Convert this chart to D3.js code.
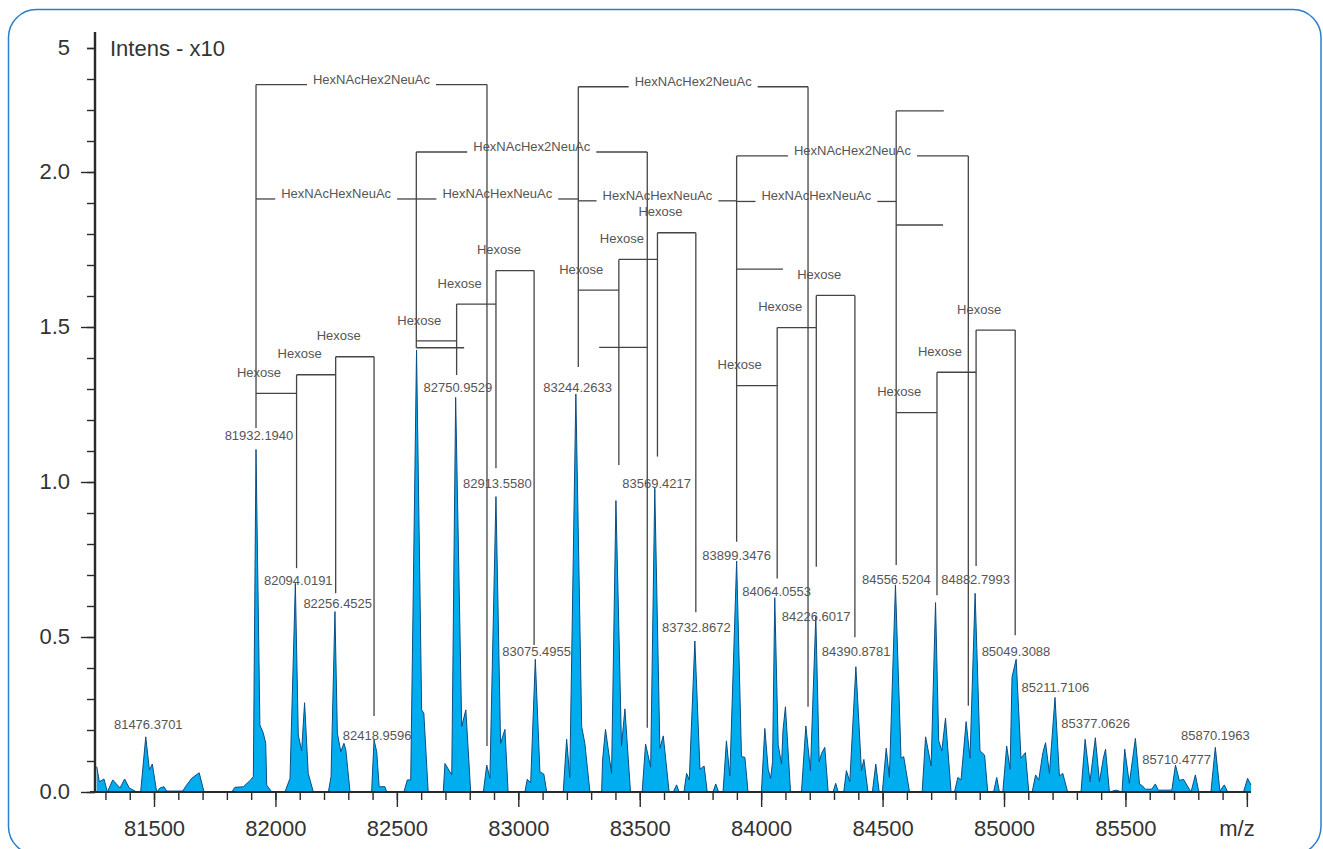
<!DOCTYPE html>
<html>
<head>
<meta charset="utf-8">
<script src="https://cdn.jsdelivr.net/npm/d3@7"></script>
<style>
  body { margin: 0; background: #fff; }
  svg { display: block; font-family: "Liberation Sans", Arial, sans-serif; }
</style>
</head>
<body>
<svg width="1323" height="849"></svg>
<script>
// profile spectrum (m/z, intensity x10^5)
const specMz = [81264, 81275, 81294, 81308, 81330, 81360, 81379, 81398, 81429, 81445, 81466, 81481, 81493, 81511, 81525, 81541, 81552, 81618, 81635, 81655, 81686, 81706,
  81820, 81833, 81868, 81898, 81909, 81920, 81936, 81950, 81960, 81964, 81985, 82039, 82060, 82082, 82094, 82108, 82120, 82135, 82156,
  82218, 82229, 82245, 82255, 82269, 82282, 82290, 82307, 82396, 82406, 82417, 82427, 82451, 82458, 82529, 82543, 82557, 82581, 82602, 82611, 82629,
  82691, 82698, 82726, 82742, 82767, 82784, 82804, 82856, 82870, 82883, 82908, 82927, 82945, 82958, 83027, 83037, 83051, 83070, 83089, 83105, 83117,
  83185, 83199, 83212, 83237, 83261, 83274, 83295, 83343, 83347, 83359, 83384, 83402, 83425, 83439, 83462, 83510, 83524, 83545, 83562, 83583, 83597, 83621,
  83638, 83652, 83662, 83682, 83693, 83704, 83727, 83748, 83765, 83778, 83802, 83813, 83825, 83843, 83857, 83871, 83899, 83919, 83933, 83946,
  84001, 84015, 84029, 84039, 84047, 84056, 84070, 84084, 84090, 84100, 84121, 84166, 84184, 84203, 84225, 84239, 84249, 84262, 84276,
  84296, 84307, 84317, 84340, 84351, 84365, 84390, 84413, 84423, 84440, 84458, 84472, 84486, 84499, 84515, 84528, 84553, 84576, 84587, 84611,
  84663, 84677, 84700, 84718, 84731, 84744, 84759, 84782, 84796, 84810, 84823, 84844, 84860, 84881, 84901, 84920, 84933, 84957, 84970, 84981,
  84995, 85011, 85025, 85033, 85050, 85070, 85088, 85102, 85116, 85130, 85143, 85160, 85171, 85187, 85210, 85228, 85242, 85262,
  85317, 85334, 85354, 85376, 85393, 85409, 85418, 85434, 85461, 85486, 85497, 85516, 85541, 85558, 85571, 85582, 85608, 85623, 85635,
  85691, 85706, 85722, 85739, 85770, 85788, 85802, 85852, 85870, 85889, 85907, 85921, 85986, 86003, 86017];
const specInt = [0.082, 0.033, 0.042, 0, 0.039, 0.013, 0.042, 0.013, 0, 0, 0.178, 0.071, 0.09, 0, 0.013, 0.017, 0.003, 0.003, 0.023, 0.044, 0.062, 0,
  0, 0.015, 0.017, 0.039, 0.05, 1.105, 0.216, 0.19, 0.157, 0.022, 0, 0, 0.044, 0.673, 0.184, 0.133, 0.288, 0.06, 0,
  0, 0.05, 0.582, 0.19, 0.13, 0.157, 0.135, 0, 0, 0.168, 0.13, 0.017, 0.017, 0, 0, 0.039, 0.039, 1.426, 0.265, 0.254, 0,
  0, 0.092, 0.055, 1.273, 0.211, 0.265, 0, 0, 0.087, 0.044, 0.953, 0.157, 0.202, 0, 0, 0.041, 0.03, 0.428, 0.065, 0.058, 0,
  0, 0.17, 0.047, 1.284, 0.211, 0.157, 0, 0, 0.103, 0.202, 0.06, 0.94, 0.148, 0.268, 0, 0, 0.155, 0.08, 0.98, 0.141, 0.181, 0,
  0, 0.023, 0, 0, 0.06, 0.039, 0.487, 0.073, 0.084, 0, 0, 0.026, 0, 0, 0.165, 0.052, 0.745, 0.114, 0.112, 0,
  0, 0.205, 0.073, 0.044, 0.098, 0.627, 0.152, 0.09, 0.2, 0.275, 0, 0, 0.213, 0.069, 0.566, 0.098, 0.125, 0.144, 0,
  0, 0.028, 0, 0, 0.069, 0.033, 0.404, 0.069, 0.105, 0, 0, 0.09, 0, 0, 0.141, 0.047, 0.668, 0.109, 0.114, 0,
  0, 0.178, 0.084, 0.611, 0.166, 0.133, 0.238, 0, 0, 0.047, 0.039, 0.227, 0.109, 0.641, 0.133, 0.119, 0, 0, 0.047, 0,
  0, 0.148, 0.073, 0.37, 0.428, 0.109, 0.127, 0, 0, 0.055, 0.039, 0.127, 0.159, 0.06, 0.305, 0.052, 0.06, 0,
  0, 0.17, 0.033, 0.175, 0.033, 0.109, 0.138, 0, 0.006, 0, 0.138, 0.028, 0.173, 0.026, 0.019, 0.009, 0.009, 0.026, 0.006,
  0.006, 0.087, 0.037, 0.041, 0, 0.055, 0, 0, 0.144, 0.003, 0.023, 0, 0, 0.044, 0.023];

// centroid peak list (labelled peaks)
const peakMz = [81476.3701, 81932.1940, 82094.0191, 82256.4525, 82418.9596, 82750.9529, 82913.5580, 83075.4955, 83244.2633, 83569.4217, 83732.8672,
  83899.3476, 84064.0553, 84226.6017, 84390.8781, 84556.5204, 84882.7993, 85049.3088, 85211.7106, 85377.0626, 85710.4777, 85870.1963];
const peakInt = [0.187, 1.117, 0.652, 0.576, 0.149, 1.272, 0.964, 0.42, 1.272, 0.964, 0.498,
  0.73, 0.614, 0.536, 0.42, 0.654, 0.654, 0.42, 0.304, 0.189, 0.073, 0.149];

// annotation stems: m/z and lower end (intensity)
const stemMz = [81920, 82087, 82248, 82406, 82580, 82746, 82871, 82908, 83065, 83247, 83414, 83531, 83573, 83731,
  83899, 84066, 84193, 84227, 84386, 84556, 84724, 84853, 84885, 85046];
const stemEnd = [1.174, 0.722, 0.641, 0.245, 1.433, 1.345, 0.148, 1.044, 0.474, 1.371, 1.055, 0.207, 1.082, 0.58,
  0.807, 0.689, 0.275, 0.727, 0.499, 0.732, 0.635, 0.278, 0.729, 0.506];

// mass-difference brackets
const bracketFrom = [81920, 82580, 83247, 83899, 81920, 82580, 83247, 83899,
  81920, 82087, 82248, 82580, 82746, 82908, 83247, 83414, 83573, 83899, 84066, 84227, 84556, 84724, 84885,
  82580, 83333, 83899, 84556, 84556];
const bracketTo = [82871, 83531, 84193, 84853, 82580, 83247, 83899, 84556,
  82087, 82248, 82406, 82746, 82908, 83065, 83414, 83573, 83731, 84066, 84227, 84386, 84724, 84885, 85046,
  82777, 83531, 84090, 84752, 84749];
const bracketLevel = [2.282, 2.0645, 2.275, 2.052, 1.913, 1.913, 1.907, 1.905,
  1.286, 1.346, 1.404, 1.455, 1.574, 1.682, 1.619, 1.718, 1.804, 1.311, 1.498, 1.602, 1.224, 1.354, 1.490,
  1.433, 1.4345, 1.687, 2.197, 1.829];
const bracketLabel = ["HexNAcHex2NeuAc", "HexNAcHex2NeuAc", "HexNAcHex2NeuAc", "HexNAcHex2NeuAc",
  "HexNAcHexNeuAc", "HexNAcHexNeuAc", "HexNAcHexNeuAc", "HexNAcHexNeuAc",
  "Hexose", "Hexose", "Hexose", "Hexose", "Hexose", "Hexose", "Hexose", "Hexose", "Hexose", "Hexose", "Hexose", "Hexose", "Hexose", "Hexose", "Hexose",
  "", "", "", "", ""];

// axis ticks
const xMinorTicks = d3.range(81300, 86001, 100);
const xMajorTicks = [81500, 82000, 82500, 83000, 83500, 84000, 84500, 85000, 85500, 86000];
const xTickLabels = ["81500", "82000", "82500", "83000", "83500", "84000", "84500", "85000", "85500", ""];
const yMinorTicks = d3.range(0, 25).map(i => i / 10);
const yMajorTicks = [0, 0.5, 1.0, 1.5, 2.0];
const yLabelVals = [0, 0.5, 1.0, 1.5, 2.0, 2.4];
const yLabelText = ["0.0", "0.5", "1.0", "1.5", "2.0", "5"];

const svg = d3.select("svg");
const ink = "#2a2a2a";
const annInk = "#555";

const x = d3.scaleLinear().domain([81257, 86017]).range([95, 1251]);
const y = d3.scaleLinear().domain([0, 2.4]).range([792, 48]);

// frame
svg.append("rect")
    .attr("x", 8.5).attr("y", 9.5)
    .attr("width", 1312.5).attr("height", 845)
    .attr("rx", 28).attr("ry", 28)
    .attr("fill", "none")
    .attr("stroke", "#2a7fcc")
    .attr("stroke-width", 1.5);

// spectrum
const pts = specMz.map((m, i) => [m, specInt[i]]);
const area = d3.area().x(d => x(d[0])).y0(y(0)).y1(d => y(d[1]));
const line = d3.line().x(d => x(d[0])).y(d => y(d[1]));

svg.append("path")
    .datum(pts)
    .attr("fill", "#00aeef")
    .attr("d", area);
svg.append("path")
    .datum(pts)
    .attr("fill", "none")
    .attr("stroke", "#0b4c84")
    .attr("stroke-width", 1)
    .attr("stroke-linejoin", "round")
    .attr("d", line);

// x axis
const gx = svg.append("g").attr("transform", `translate(0,${y(0)})`);
gx.append("g").call(d3.axisBottom(x).tickValues(xMinorTicks).tickSize(8).tickFormat(""));
gx.append("g").call(d3.axisBottom(x).tickValues(xMajorTicks).tickSize(15).tickPadding(13)
    .tickFormat((d, i) => xTickLabels[i]));
gx.selectAll(".domain").remove();
gx.selectAll("line").attr("stroke", ink).attr("stroke-width", 1.4);
gx.selectAll("text")
    .attr("fill", "#333")
    .style("font-size", "22px")
    .style("font-family", "'Liberation Sans', Arial, sans-serif");
gx.append("line")
    .attr("x1", 90).attr("x2", 1251)
    .attr("stroke", ink).attr("stroke-width", 2.2);

svg.append("text")
    .attr("x", 1237).attr("y", 836)
    .attr("text-anchor", "middle")
    .attr("fill", "#333")
    .style("font-size", "22px")
    .text("m/z");

// y axis
const gy = svg.append("g").attr("transform", "translate(95,0)");
gy.append("g").call(d3.axisLeft(y).tickValues(yMinorTicks.concat([2.4])).tickSize(8).tickFormat(""));
gy.append("g").call(d3.axisLeft(y).tickValues(yMajorTicks).tickSize(14).tickFormat(""));
gy.selectAll(".domain").remove();
gy.selectAll("line").attr("stroke", ink).attr("stroke-width", 1.4);
gy.append("line")
    .attr("y1", 32).attr("y2", y(0) + 1)
    .attr("stroke", ink).attr("stroke-width", 2.4);

svg.selectAll(".ylab")
    .data(yLabelVals).enter().append("text")
    .attr("class", "ylab")
    .attr("x", 70)
    .attr("y", d => y(d) - 1)
    .attr("dy", "0.36em")
    .attr("text-anchor", "end")
    .attr("fill", "#333")
    .style("font-size", "22px")
    .text((d, i) => yLabelText[i]);

svg.append("text")
    .attr("x", 110).attr("y", 48)
    .attr("dy", "0.36em")
    .attr("fill", "#333")
    .style("font-size", "22px")
    .text("Intens - x10");

// annotation stems: top is the highest bracket attached to the stem
const ann = svg.append("g")
    .attr("stroke", "#444")
    .attr("stroke-width", 1.3)
    .attr("fill", "none");

stemMz.forEach((m, i) => {
    const levels = bracketLevel.filter((l, j) => bracketFrom[j] === m || bracketTo[j] === m);
    const top = d3.max(levels);
    ann.append("line")
        .attr("x1", x(m)).attr("x2", x(m))
        .attr("y1", y(top)).attr("y2", y(stemEnd[i]));
});

const labels = svg.append("g")
    .attr("fill", annInk)
    .style("font-size", "13px");

bracketFrom.forEach((m1, i) => {
    const x1 = x(m1), x2 = x(bracketTo[i]), yy = y(bracketLevel[i]);
    const lab = bracketLabel[i];
    if (lab.startsWith("HexNAc")) {
        const cx = (x1 + x2) / 2;
        const t = labels.append("text")
            .attr("x", cx).attr("y", yy - 1)
            .attr("text-anchor", "middle")
            .text(lab);
        const w = t.node().getComputedTextLength();
        ann.append("line").attr("x1", x1).attr("x2", cx - w / 2 - 6).attr("y1", yy).attr("y2", yy);
        ann.append("line").attr("x1", cx + w / 2 + 6).attr("x2", x2).attr("y1", yy).attr("y2", yy);
    } else {
        ann.append("line").attr("x1", x1).attr("x2", x2).attr("y1", yy).attr("y2", yy);
        if (lab) {
            labels.append("text")
                .attr("x", x1 + 3).attr("y", yy - 21)
                .attr("dy", "0.36em")
                .attr("text-anchor", "middle")
                .text(lab);
        }
    }
});

// peak labels
labels.selectAll(".plab")
    .data(peakMz).enter().append("text")
    .attr("class", "plab")
    .attr("x", d => x(d))
    .attr("y", (d, i) => y(peakInt[i]) - 10)
    .attr("dy", "0.36em")
    .attr("text-anchor", "middle")
    .text(d => d.toFixed(4));
</script>
</body>
</html>
